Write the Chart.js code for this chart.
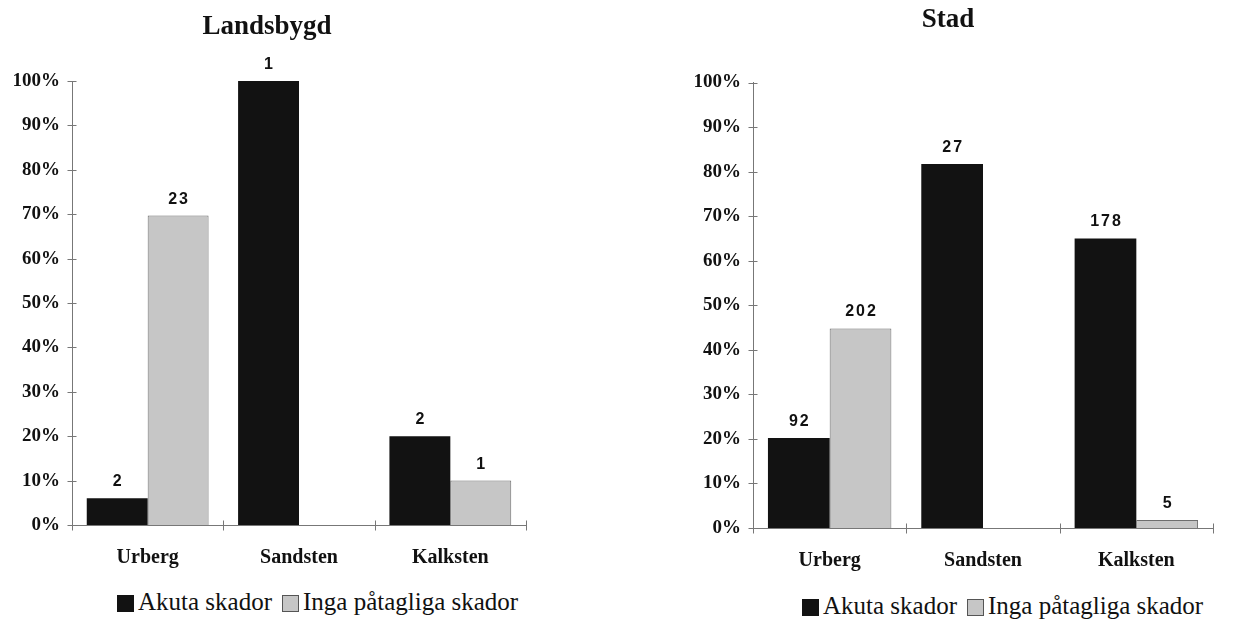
<!DOCTYPE html>
<html>
<head>
<meta charset="utf-8">
<script src="https://cdn.jsdelivr.net/npm/chart.js@4.4.1/dist/chart.umd.min.js"></script>
<style>
  html, body { margin: 0; padding: 0; background: #fff; width: 1233px; height: 621px; overflow: hidden; position: relative; }
  canvas { position: absolute; top: 0; }
  #cLand { left: 8px; }
  #cStad { left: 683px; }
  .legend { position: absolute; display: flex; align-items: center; white-space: nowrap;
            font-family: "Liberation Serif", "Times New Roman", serif; font-size: 25px; color: #111; }
  .legend .item { display: flex; align-items: center; margin-right: 10px; }
  .legend .box { width: 17px; height: 17px; box-sizing: border-box; margin-right: 4px; margin-top: 2px; }
</style>
</head>
<body>
<canvas id="cLand" width="532" height="580"></canvas>
<canvas id="cStad" width="550" height="580"></canvas>
<div class="legend" id="lLand" style="left:117px; top:588px;"></div>
<div class="legend" id="lStad" style="left:802px; top:592px;"></div>

<script>
// Rock types on the x axis
const categories = ['Urberg', 'Sandsten', 'Kalksten'];
const seriesNames = ['Akuta skador', 'Inga påtagliga skador'];
const yTickValues = [0, 10, 20, 30, 40, 50, 60, 70, 80, 90, 100];

// Landsbygd: share of objects (%) and number of objects per rock type
const landAkutaPct = [6.0, 100, 20];
const landIngaPct  = [69.7, null, 10];
const landAkutaN   = [2, 1, 2];
const landIngaN    = [23, null, 1];

// Stad: share of objects (%) and number of objects per rock type
const stadAkutaPct = [20.2, 81.7, 65.0];
const stadIngaPct  = [44.8, null, 1.8];
const stadAkutaN   = [92, 27, 178];
const stadIngaN    = [202, null, 5];

const DARK = '#121212';
const LIGHT = '#c6c6c6';
const LIGHT_EDGE = '#6e6e6e';
const AXIS = '#777777';
const SERIF = '"Liberation Serif", "Times New Roman", serif';
const SANS = '"Liberation Sans", Arial, sans-serif';

// Counts printed above each bar
const countLabels = {
  id: 'countLabels',
  afterDatasetsDraw(chart) {
    const ctx = chart.ctx;
    ctx.save();
    ctx.font = 'bold 16px ' + SANS;
    ctx.letterSpacing = '2px';
    ctx.fillStyle = '#111';
    ctx.textAlign = 'center';
    ctx.textBaseline = 'alphabetic';
    chart.data.datasets.forEach((ds, di) => {
      const meta = chart.getDatasetMeta(di);
      meta.data.forEach((bar, i) => {
        const n = ds.counts[i];
        if (n == null || ds.data[i] == null) return;
        ctx.fillText(String(n), bar.x + 1, bar.y - 12);
      });
    });
    ctx.restore();
  }
};

// Small tick marks that cross both axis lines
const crossTicks = {
  id: 'crossTicks',
  afterDraw(chart) {
    const { ctx, chartArea, scales: { x, y } } = chart;
    ctx.save();
    ctx.strokeStyle = AXIS;
    ctx.lineWidth = 1;
    ctx.beginPath();
    const ax = Math.round(chartArea.left) + 0.5;
    y.ticks.forEach(t => {
      const py = Math.round(y.getPixelForValue(t.value)) + 0.5;
      ctx.moveTo(ax - 5, py);
      ctx.lineTo(ax + 4, py);
    });
    const ay = Math.round(chartArea.bottom) + 0.5;
    for (let i = 0; i <= chart.data.labels.length; i++) {
      const px = Math.round(x.getPixelForValue(i - 0.5)) + 0.5;
      ctx.moveTo(px, ay - 5);
      ctx.lineTo(px, ay + 5);
    }
    ctx.stroke();
    ctx.restore();
  }
};

function makeChart(canvasId, legendId, title, akutaPct, ingaPct, akutaN, ingaN, g) {
  const chart = new Chart(document.getElementById(canvasId), {
    type: 'bar',
    data: {
      labels: categories,
      datasets: [
        { label: seriesNames[0], data: akutaPct, counts: akutaN,
          backgroundColor: DARK, borderColor: DARK, borderWidth: 0 },
        { label: seriesNames[1], data: ingaPct, counts: ingaN,
          backgroundColor: LIGHT, borderColor: LIGHT_EDGE, borderWidth: 1 }
      ]
    },
    options: {
      responsive: false,
      animation: false,
      devicePixelRatio: 1,
      layout: { padding: { left: 0, right: g.padRight, top: 0, bottom: 0 } },
      datasets: { bar: { categoryPercentage: 0.805, barPercentage: 1.0 } },
      plugins: {
        legend: { display: false },
        tooltip: { enabled: false },
        title: {
          display: true,
          text: title,
          color: '#111',
          font: { family: SERIF, size: 27, weight: 'bold' },
          padding: { top: g.titleTop, bottom: g.titleBottom }
        }
      },
      scales: {
        x: {
          grid: { display: false, drawTicks: false },
          border: { display: true, color: AXIS, width: 1 },
          ticks: { color: '#111', padding: 21, font: { family: SERIF, size: 20, weight: 'bold' } },
          afterFit(scale) { scale.height = 580 - g.bottom; }
        },
        y: {
          min: 0, max: 100,
          afterBuildTicks(scale) { scale.ticks = yTickValues.map(v => ({ value: v })); },
          grid: { display: false, drawTicks: false },
          border: { display: true, color: AXIS, width: 1 },
          ticks: { color: '#111', padding: 12, font: { family: SERIF, size: 19, weight: 'bold' },
                   callback: v => v + '%' },
          afterFit(scale) { scale.width = g.axisWidth; }
        }
      }
    },
    plugins: [countLabels, crossTicks]
  });

  // Legend built from the chart's own datasets
  const lg = document.getElementById(legendId);
  chart.data.datasets.forEach(ds => {
    const item = document.createElement('span');
    item.className = 'item';
    const box = document.createElement('span');
    box.className = 'box';
    box.style.background = ds.backgroundColor;
    box.style.border = ds.borderWidth ? '1px solid #555' : '1px solid ' + ds.backgroundColor;
    const txt = document.createElement('span');
    txt.textContent = ds.label;
    item.appendChild(box);
    item.appendChild(txt);
    lg.appendChild(item);
  });
  return chart;
}

makeChart('cLand', 'lLand', 'Landsbygd', landAkutaPct, landIngaPct, landAkutaN, landIngaN,
  { axisWidth: 64, padRight: 14, bottom: 525, titleTop: 11, titleBottom: 37.6 });
makeChart('cStad', 'lStad', 'Stad', stadAkutaPct, stadIngaPct, stadAkutaN, stadIngaN,
  { axisWidth: 70, padRight: 20, bottom: 528, titleTop: 4, titleBottom: 46.1 });
</script>
</body>
</html>
